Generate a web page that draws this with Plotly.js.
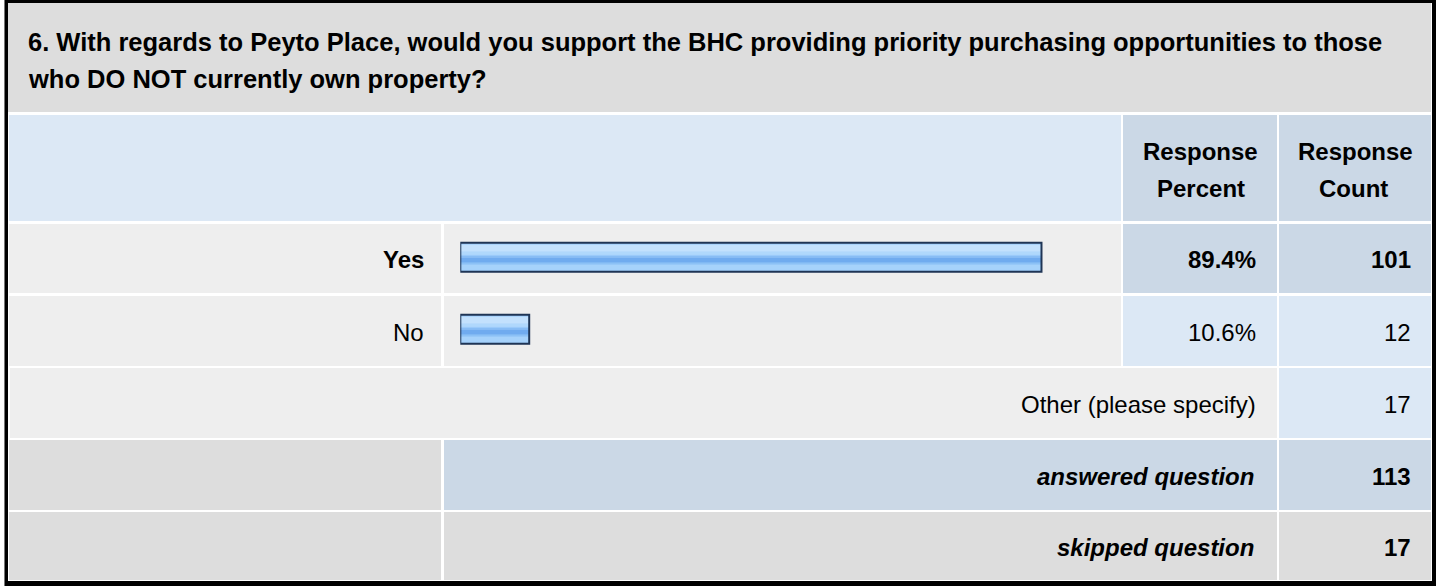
<!DOCTYPE html>
<html>
<head>
<meta charset="utf-8">
<script src="https://cdn.plot.ly/plotly-3.0.1.min.js"></script>
<style>html,body{margin:0;padding:0;background:#fff;}#chart{width:1437px;height:586px;}</style>
</head>
<body>
<div id="chart"></div>
<script>
// ---- data ----
const questionLines = [
  "6. With regards to Peyto Place, would you support the BHC providing priority purchasing opportunities to those",
  "who DO NOT currently own property?"
];
const answerChoices = ["Yes", "No"];
const responsePercent = [89.4, 10.6];
const responseCount = [101, 12];
const otherLabel = "Other (please specify)";
const otherCount = 17;
const summaryLabels = ["answered question", "skipped question"];
const summaryCounts = [113, 17];
const headerLabels = [["Response", "Percent"], ["Response", "Count"]];

// ---- layout helpers ----
const W = 1437, H = 586;
const X = p => p / W;
const Y = p => 1 - p / H;
function rect(x0, y0, x1, y1, color) {
  return {type: 'rect', xref: 'paper', yref: 'paper', x0: X(x0), x1: X(x1), y0: Y(y1), y1: Y(y0),
          fillcolor: color, line: {width: 0}, layer: 'below'};
}
const FONT = '"Liberation Sans", Arial, sans-serif';
function txt(text, px, py, anchor, opts) {
  opts = opts || {};
  return {text: text, xref: 'paper', yref: 'paper', x: X(px), y: Y(py), xanchor: anchor, yanchor: 'middle',
          showarrow: false,
          font: {family: FONT, size: opts.size || 24, color: '#000', weight: opts.bold ? 'bold' : 'normal',
                 style: opts.italic ? 'italic' : 'normal'}};
}

const GREY = '#dddddd', LIGHT = '#eeeeee', BLUE1 = '#dce8f5', BLUE2 = '#cbd8e6';

// rows (top, bottom)
const rowHead = [115, 221], rowYes = [224, 293], rowNo = [296, 366], rowOther = [368, 438],
      rowAns = [440, 510], rowSkip = [512, 580];
const colL = [9, 441], colBar = [444, 1121], colP = [1123, 1277], colC = [1279, 1431];

const shapes = [
  rect(5, 0, 1436, 586, '#000000'),
  rect(8, 3, 1432, 581, '#ffffff'),
  rect(4, 0, 5, 586, '#777777'),
  rect(8, 3, 1431, 112, GREY),
  // header row
  rect(colL[0], rowHead[0], colBar[1], rowHead[1], BLUE1),
  rect(colP[0], rowHead[0], colP[1], rowHead[1], BLUE2),
  rect(colC[0], rowHead[0], colC[1], rowHead[1], BLUE2),
  // yes row
  rect(colL[0], rowYes[0], colL[1], rowYes[1], LIGHT),
  rect(colBar[0], rowYes[0], colBar[1], rowYes[1], LIGHT),
  rect(colP[0], rowYes[0], colP[1], rowYes[1], BLUE2),
  rect(colC[0], rowYes[0], colC[1], rowYes[1], BLUE2),
  // no row
  rect(colL[0], rowNo[0], colL[1], rowNo[1], LIGHT),
  rect(colBar[0], rowNo[0], colBar[1], rowNo[1], LIGHT),
  rect(colP[0], rowNo[0], colP[1], rowNo[1], BLUE1),
  rect(colC[0], rowNo[0], colC[1], rowNo[1], BLUE1),
  // other row
  rect(10, rowOther[0], colP[1], rowOther[1], LIGHT),
  rect(colC[0], rowOther[0], colC[1], rowOther[1], BLUE1),
  // answered
  rect(colL[0], rowAns[0], colL[1], rowAns[1], GREY),
  rect(colBar[0], rowAns[0], colP[1], rowAns[1], BLUE2),
  rect(colC[0], rowAns[0], colC[1], rowAns[1], BLUE2),
  // skipped
  rect(colL[0], rowSkip[0], colL[1], rowSkip[1], GREY),
  rect(colBar[0], rowSkip[0], colP[1], rowSkip[1], GREY),
  rect(colC[0], rowSkip[0], colC[1], rowSkip[1], GREY)
];

const mid = r => (r[0] + r[1]) / 2 + 1;
const annotations = [
  txt(questionLines[0], 26, 42, 'left', {bold: true, size: 25.5}),
  txt(questionLines[1], 26, 79, 'left', {bold: true, size: 25.5}),
  txt(headerLabels[0][0], 1200, 152, 'center', {bold: true}),
  txt(headerLabels[0][1], 1201, 188, 'center', {bold: true}),
  txt(headerLabels[1][0], 1355, 152, 'center', {bold: true}),
  txt(headerLabels[1][1], 1353, 188, 'center', {bold: true})
];
const rows = [rowYes, rowNo];
answerChoices.forEach((c, i) => {
  const bold = i === 0;
  annotations.push(txt(c, 426, mid(rows[i]), 'right', {bold: bold}));
  annotations.push(txt(responsePercent[i].toFixed(1) + '%', 1258, mid(rows[i]), 'right', {bold: bold}));
  annotations.push(txt(String(responseCount[i]), 1413, mid(rows[i]), 'right', {bold: bold}));
});
annotations.push(txt(otherLabel, 1258, mid(rowOther), 'right'));
annotations.push(txt(String(otherCount), 1413, mid(rowOther), 'right'));
[rowAns, rowSkip].forEach((r, i) => {
  annotations.push(txt(summaryLabels[i], 1256, mid(r), 'right', {bold: true, italic: true}));
  annotations.push(txt(String(summaryCounts[i]), 1413, mid(r), 'right', {bold: true}));
});

// ---- bars (glossy look from stacked overlay layers) ----
const BW = 29 / 72;            // bar thickness in category units
const base = -BW / 2;
function layer(color, fromPx, toPx, line) {
  return {
    type: 'bar', orientation: 'h', x: responsePercent, y: answerChoices,
    offset: base + fromPx / 72, width: (toPx - fromPx) / 72,
    marker: {color: color, line: line || {width: 0}},
    hoverinfo: 'skip', showlegend: false
  };
}
const traces = [
  layer('#a2cffb', 0, 29),
  layer('#c3e1fd', 2, 9),
  layer('#b0d8fc', 9, 12),
  layer('#88bdf5', 13, 15),
  layer('#70abef', 15, 20),
  layer('#8cc1f6', 20, 22),
  layer('#a6d2fb', 22, 27),
  layer('rgba(0,0,0,0)', 0, 29, {color: '#1f3555', width: 2})
];

const layout = {
  width: W, height: H,
  margin: {l: 0, r: 0, t: 0, b: 0},
  paper_bgcolor: '#ffffff', plot_bgcolor: 'rgba(0,0,0,0)',
  barmode: 'overlay',
  showlegend: false,
  xaxis: {domain: [X(460.3), X(1110.4)], range: [0, 100], visible: false, fixedrange: true},
  yaxis: {domain: [Y(365.2), Y(221.2)], type: 'category', categoryarray: answerChoices,
          range: [1.5, -0.5], visible: false, fixedrange: true},
  shapes: shapes,
  annotations: annotations
};

Plotly.newPlot('chart', traces, layout, {staticPlot: true, displayModeBar: false});
</script>
</body>
</html>
